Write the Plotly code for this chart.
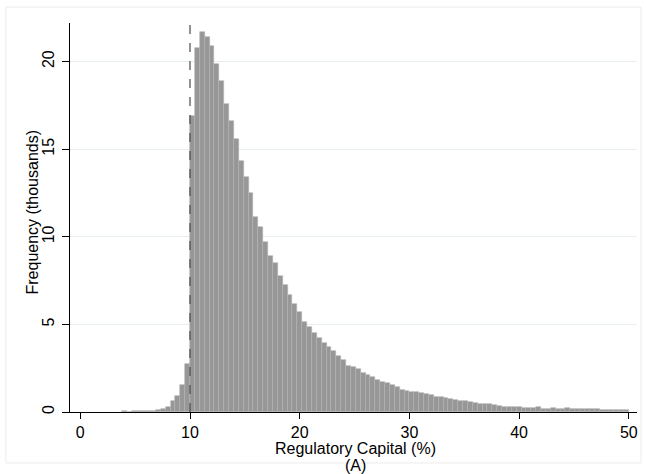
import numpy as np
import plotly.graph_objects as go

# Histogram bins (percent of regulatory capital); one bin edge sits at 10
bin_width = 4 / 9
first_edge = 10 - 14 * bin_width

# Frequencies (thousands) for the 14 bins below 10%
freq_below = [0.03, 0.02, 0.03, 0.03, 0.04, 0.05, 0.07, 0.10, 0.15, 0.27,
              0.63, 0.93, 1.55, 2.75]
# Frequencies (thousands) for the 90 bins from 10% to 50%
freq_above = [16.9, 20.8, 21.7, 21.4, 20.9, 19.85, 18.9, 17.55, 16.6, 15.6,
              14.35, 13.4, 12.5, 11.15, 10.55, 9.7, 8.9, 8.5, 7.77, 7.26,
              6.68, 6.15, 5.71, 5.12, 4.83, 4.5, 4.22, 3.96, 3.69, 3.46,
              3.2, 2.95, 2.65, 2.54, 2.43, 2.23, 2.1, 1.97, 1.8, 1.7,
              1.67, 1.53, 1.43, 1.26, 1.19, 1.16, 1.14, 1.08, 1.05, 0.98,
              0.86, 0.84, 0.8, 0.75, 0.71, 0.65, 0.6, 0.55, 0.5, 0.48,
              0.47, 0.45, 0.4, 0.34, 0.31, 0.3, 0.3, 0.29, 0.25, 0.24,
              0.25, 0.27, 0.2, 0.19, 0.22, 0.19, 0.18, 0.22, 0.18, 0.17,
              0.17, 0.16, 0.16, 0.16, 0.14, 0.12, 0.12, 0.12, 0.12, 0.11]
frequency = freq_below + freq_above

threshold = 10
x_ticks = [0, 10, 20, 30, 40, 50]
y_ticks = [0, 5, 10, 15, 20]

edges = first_edge + bin_width * np.arange(len(frequency))
centers = edges + bin_width / 2

FONT = "Liberation Sans, Arial, sans-serif"
FS = 16

fig = go.Figure()
fig.add_trace(go.Bar(
    x=centers, y=frequency, width=bin_width,
    marker=dict(color="#979797", line=dict(color="#b3b3b3", width=0.6)),
    hoverinfo="skip",
))

fig.add_shape(type="line", x0=threshold, x1=threshold, y0=0, y1=1,
              xref="x", yref="y domain",
              line=dict(color="#4a4a4a", width=1.2, dash="dash"))

# faint outer graph-region border
fig.add_shape(type="rect", xref="paper", yref="paper",
              x0=-0.113, x1=1.007, y0=-0.131, y1=1.041,
              line=dict(color="#ececec", width=1), layer="below")

fig.add_annotation(text="Frequency (thousands)", xref="paper", yref="paper",
                   x=0, y=0.5, xshift=-38, yshift=5, textangle=-90,
                   xanchor="center", yanchor="middle",
                   showarrow=False, font=dict(family=FONT, size=FS, color="#000"))
fig.add_annotation(text="Regulatory Capital (%)", xref="paper", yref="paper",
                   x=0.5, y=0, yshift=-36, xshift=2, xanchor="center",
                   yanchor="middle",
                   showarrow=False, font=dict(family=FONT, size=FS, color="#000"))
fig.add_annotation(text="(A)", xref="paper", yref="paper",
                   x=0.5, y=0, yshift=-53, xshift=2, xanchor="center",
                   yanchor="middle",
                   showarrow=False, font=dict(family=FONT, size=FS, color="#000"))

fig.update_layout(
    width=646, height=474, autosize=False,
    margin=dict(l=70, r=9, t=23, b=62),
    paper_bgcolor="white", plot_bgcolor="white",
    bargap=0, showlegend=False,
    font=dict(family=FONT, size=FS, color="#000"),
    xaxis=dict(range=[-0.94, 50.75], tickvals=x_ticks, ticks="outside",
               ticklen=6, tickcolor="#000", showline=True, linecolor="#000",
               linewidth=1, showgrid=False, zeroline=False,
               tickfont=dict(family=FONT, size=FS, color="#000")),
    yaxis=dict(range=[0, 22.2], tickvals=y_ticks, ticks="outside",
               ticklen=7, tickcolor="#000", tickangle=-90, showline=True,
               linecolor="#000", linewidth=1, showgrid=True,
               gridcolor="#e7efef", gridwidth=1, zeroline=False,
               ticklabelstandoff=2,
               tickfont=dict(family=FONT, size=FS, color="#000")),
)

fig.write_html(
    "out.html",
    config={"displayModeBar": False},
    post_script="document.body.style.margin='0';"
                "document.body.style.overflow='hidden';",
)
